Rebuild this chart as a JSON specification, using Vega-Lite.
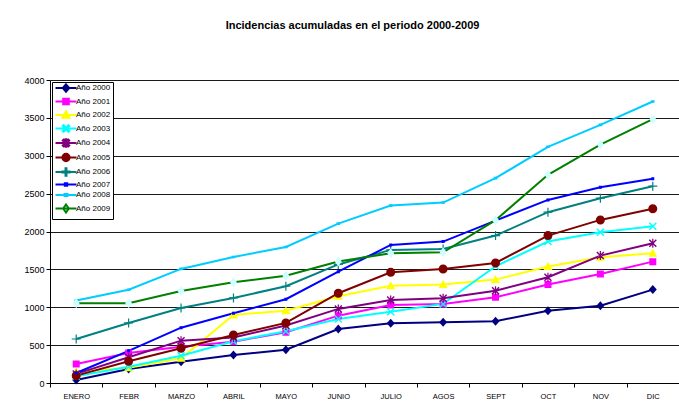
{
  "$schema": "https://vega.github.io/schema/vega-lite/v6.json",
  "width": 629,
  "height": 303,
  "autosize": {"type": "none"},
  "padding": {"left": 50, "top": 80, "right": 0, "bottom": 33},
  "background": "white",
  "config": {"view": {"stroke": null}, "font": "Liberation Sans"},
  "title": {"text": "Incidencias acumuladas en el periodo 2000-2009", "font": "Liberation Sans", "fontSize": 11, "fontWeight": "bold", "color": "black", "anchor": "middle", "dx": -12, "offset": 45},
  "datasets": {
    "d": [
      {"serie": "Año 2000", "mes": "ENERO", "valor": 40}, {"serie": "Año 2000", "mes": "FEBR", "valor": 185}, {"serie": "Año 2000", "mes": "MARZO", "valor": 281}, {"serie": "Año 2000", "mes": "ABRIL", "valor": 370}, {"serie": "Año 2000", "mes": "MAYO", "valor": 440}, {"serie": "Año 2000", "mes": "JUNIO", "valor": 713}, {"serie": "Año 2000", "mes": "JULIO", "valor": 789}, {"serie": "Año 2000", "mes": "AGOS", "valor": 802}, {"serie": "Año 2000", "mes": "SEPT", "valor": 815}, {"serie": "Año 2000", "mes": "OCT", "valor": 955}, {"serie": "Año 2000", "mes": "NOV", "valor": 1021}, {"serie": "Año 2000", "mes": "DIC", "valor": 1233},
      {"serie": "Año 2001", "mes": "ENERO", "valor": 250}, {"serie": "Año 2001", "mes": "FEBR", "valor": 396}, {"serie": "Año 2001", "mes": "MARZO", "valor": 480}, {"serie": "Año 2001", "mes": "ABRIL", "valor": 546}, {"serie": "Año 2001", "mes": "MAYO", "valor": 670}, {"serie": "Año 2001", "mes": "JUNIO", "valor": 889}, {"serie": "Año 2001", "mes": "JULIO", "valor": 1030}, {"serie": "Año 2001", "mes": "AGOS", "valor": 1044}, {"serie": "Año 2001", "mes": "SEPT", "valor": 1132}, {"serie": "Año 2001", "mes": "OCT", "valor": 1299}, {"serie": "Año 2001", "mes": "NOV", "valor": 1440}, {"serie": "Año 2001", "mes": "DIC", "valor": 1602},
      {"serie": "Año 2002", "mes": "ENERO", "valor": 150}, {"serie": "Año 2002", "mes": "FEBR", "valor": 200}, {"serie": "Año 2002", "mes": "MARZO", "valor": 326}, {"serie": "Año 2002", "mes": "ABRIL", "valor": 898}, {"serie": "Año 2002", "mes": "MAYO", "valor": 955}, {"serie": "Año 2002", "mes": "JUNIO", "valor": 1145}, {"serie": "Año 2002", "mes": "JULIO", "valor": 1285}, {"serie": "Año 2002", "mes": "AGOS", "valor": 1299}, {"serie": "Año 2002", "mes": "SEPT", "valor": 1365}, {"serie": "Año 2002", "mes": "OCT", "valor": 1537}, {"serie": "Año 2002", "mes": "NOV", "valor": 1660}, {"serie": "Año 2002", "mes": "DIC", "valor": 1713},
      {"serie": "Año 2003", "mes": "ENERO", "valor": 90}, {"serie": "Año 2003", "mes": "FEBR", "valor": 215}, {"serie": "Año 2003", "mes": "MARZO", "valor": 361}, {"serie": "Año 2003", "mes": "ABRIL", "valor": 550}, {"serie": "Año 2003", "mes": "MAYO", "valor": 683}, {"serie": "Año 2003", "mes": "JUNIO", "valor": 845}, {"serie": "Año 2003", "mes": "JULIO", "valor": 942}, {"serie": "Año 2003", "mes": "AGOS", "valor": 1044}, {"serie": "Año 2003", "mes": "SEPT", "valor": 1541}, {"serie": "Año 2003", "mes": "OCT", "valor": 1867}, {"serie": "Año 2003", "mes": "NOV", "valor": 1990}, {"serie": "Año 2003", "mes": "DIC", "valor": 2070},
      {"serie": "Año 2004", "mes": "ENERO", "valor": 120}, {"serie": "Año 2004", "mes": "FEBR", "valor": 339}, {"serie": "Año 2004", "mes": "MARZO", "valor": 559}, {"serie": "Año 2004", "mes": "ABRIL", "valor": 600}, {"serie": "Año 2004", "mes": "MAYO", "valor": 760}, {"serie": "Año 2004", "mes": "JUNIO", "valor": 978}, {"serie": "Año 2004", "mes": "JULIO", "valor": 1096}, {"serie": "Año 2004", "mes": "AGOS", "valor": 1119}, {"serie": "Año 2004", "mes": "SEPT", "valor": 1219}, {"serie": "Año 2004", "mes": "OCT", "valor": 1396}, {"serie": "Año 2004", "mes": "NOV", "valor": 1682}, {"serie": "Año 2004", "mes": "DIC", "valor": 1845},
      {"serie": "Año 2005", "mes": "ENERO", "valor": 97}, {"serie": "Año 2005", "mes": "FEBR", "valor": 287}, {"serie": "Año 2005", "mes": "MARZO", "valor": 458}, {"serie": "Año 2005", "mes": "ABRIL", "valor": 634}, {"serie": "Año 2005", "mes": "MAYO", "valor": 793}, {"serie": "Año 2005", "mes": "JUNIO", "valor": 1185}, {"serie": "Año 2005", "mes": "JULIO", "valor": 1462}, {"serie": "Año 2005", "mes": "AGOS", "valor": 1506}, {"serie": "Año 2005", "mes": "SEPT", "valor": 1585}, {"serie": "Año 2005", "mes": "OCT", "valor": 1946}, {"serie": "Año 2005", "mes": "NOV", "valor": 2153}, {"serie": "Año 2005", "mes": "DIC", "valor": 2299},
      {"serie": "Año 2006", "mes": "ENERO", "valor": 581}, {"serie": "Año 2006", "mes": "FEBR", "valor": 793}, {"serie": "Año 2006", "mes": "MARZO", "valor": 991}, {"serie": "Año 2006", "mes": "ABRIL", "valor": 1123}, {"serie": "Año 2006", "mes": "MAYO", "valor": 1277}, {"serie": "Año 2006", "mes": "JUNIO", "valor": 1565}, {"serie": "Año 2006", "mes": "JULIO", "valor": 1757}, {"serie": "Año 2006", "mes": "AGOS", "valor": 1770}, {"serie": "Año 2006", "mes": "SEPT", "valor": 1946}, {"serie": "Año 2006", "mes": "OCT", "valor": 2255}, {"serie": "Año 2006", "mes": "NOV", "valor": 2440}, {"serie": "Año 2006", "mes": "DIC", "valor": 2598},
      {"serie": "Año 2007", "mes": "ENERO", "valor": 132}, {"serie": "Año 2007", "mes": "FEBR", "valor": 425}, {"serie": "Año 2007", "mes": "MARZO", "valor": 730}, {"serie": "Año 2007", "mes": "ABRIL", "valor": 921}, {"serie": "Año 2007", "mes": "MAYO", "valor": 1106}, {"serie": "Año 2007", "mes": "JUNIO", "valor": 1470}, {"serie": "Año 2007", "mes": "JULIO", "valor": 1823}, {"serie": "Año 2007", "mes": "AGOS", "valor": 1867}, {"serie": "Año 2007", "mes": "SEPT", "valor": 2144}, {"serie": "Año 2007", "mes": "OCT", "valor": 2417}, {"serie": "Año 2007", "mes": "NOV", "valor": 2585}, {"serie": "Año 2007", "mes": "DIC", "valor": 2695},
      {"serie": "Año 2008", "mes": "ENERO", "valor": 1090}, {"serie": "Año 2008", "mes": "FEBR", "valor": 1232}, {"serie": "Año 2008", "mes": "MARZO", "valor": 1506}, {"serie": "Año 2008", "mes": "ABRIL", "valor": 1664}, {"serie": "Año 2008", "mes": "MAYO", "valor": 1796}, {"serie": "Año 2008", "mes": "JUNIO", "valor": 2104}, {"serie": "Año 2008", "mes": "JULIO", "valor": 2342}, {"serie": "Año 2008", "mes": "AGOS", "valor": 2382}, {"serie": "Año 2008", "mes": "SEPT", "valor": 2704}, {"serie": "Año 2008", "mes": "OCT", "valor": 3118}, {"serie": "Año 2008", "mes": "NOV", "valor": 3408}, {"serie": "Año 2008", "mes": "DIC", "valor": 3716},
      {"serie": "Año 2009", "mes": "ENERO", "valor": 1053}, {"serie": "Año 2009", "mes": "FEBR", "valor": 1053}, {"serie": "Año 2009", "mes": "MARZO", "valor": 1215}, {"serie": "Año 2009", "mes": "ABRIL", "valor": 1330}, {"serie": "Año 2009", "mes": "MAYO", "valor": 1417}, {"serie": "Año 2009", "mes": "JUNIO", "valor": 1605}, {"serie": "Año 2009", "mes": "JULIO", "valor": 1713}, {"serie": "Año 2009", "mes": "AGOS", "valor": 1726}, {"serie": "Año 2009", "mes": "SEPT", "valor": 2149}, {"serie": "Año 2009", "mes": "OCT", "valor": 2748}, {"serie": "Año 2009", "mes": "NOV", "valor": 3148}, {"serie": "Año 2009", "mes": "DIC", "valor": 3483}
    ]
  },
  "data": {"name": "d"},
  "encoding": {
    "x": {
      "field": "mes", "type": "ordinal",
      "sort": ["ENERO", "FEBR", "MARZO", "ABRIL", "MAYO", "JUNIO", "JULIO", "AGOS", "SEPT", "OCT", "NOV", "DIC"],
      "scale": {"type": "band", "paddingInner": 0, "paddingOuter": 0},
      "bandPosition": 0.5,
      "axis": {"title": null, "labelAngle": 0, "tickBand": "extent", "tickSize": 4, "tickColor": "#000", "domainColor": "#000", "labelColor": "#000", "labelFont": "Liberation Sans", "labelFontSize": 7.5, "labelPadding": 5, "grid": false}
    },
    "y": {
      "field": "valor", "type": "quantitative",
      "scale": {"domain": [0, 4000], "nice": false},
      "axis": {"title": null, "format": "d", "values": [0, 500, 1000, 1500, 2000, 2500, 3000, 3500, 4000], "grid": true, "gridColor": "#1a1a1a", "gridWidth": 1, "tickSize": 4, "tickColor": "#000", "domainColor": "#000", "labelColor": "#000", "labelFont": "Liberation Sans", "labelFontSize": 9, "labelPadding": 2}
    }
  },
  "layer": [
    {
      "mark": {"type": "line"},
      "encoding": {
        "stroke": {
          "field": "serie", "type": "nominal",
          "scale": {"domain": ["Año 2000", "Año 2001", "Año 2002", "Año 2003", "Año 2004", "Año 2005", "Año 2006", "Año 2007", "Año 2008", "Año 2009"], "range": ["#000080", "#FF00FF", "#FFFF00", "#00FFFF", "#800080", "#800000", "#008080", "#0000FF", "#00CCFF", "#008000"]},
          "legend": {
            "title": null, "orient": "none", "legendX": 2, "legendY": 2, "padding": 2,
            "fillColor": "white", "strokeColor": "black", "cornerRadius": 0,
            "symbolSize": 2.6, "symbolStrokeWidth": 1.6, "symbolOffset": 8, "labelOffset": 6, "rowPadding": -1.5,
            "labelFont": "Liberation Sans", "labelFontSize": 8, "labelColor": "#000"
          }
        },
        "strokeWidth": {
          "field": "serie", "type": "nominal",
          "scale": {"domain": ["Año 2000", "Año 2001", "Año 2002", "Año 2003", "Año 2004", "Año 2005", "Año 2006", "Año 2007", "Año 2008", "Año 2009"], "range": [2, 2, 2, 2, 2, 2, 2, 1, 1, 1.8]},
          "legend": null
        }
      }
    },
    {
      "mark": {"type": "point", "filled": true, "size": 4, "opacity": 1, "strokeWidth": 0},
      "encoding": {
        "shape": {
          "field": "serie", "type": "nominal",
          "scale": {"domain": ["Año 2000", "Año 2001", "Año 2002", "Año 2003", "Año 2004", "Año 2005", "Año 2006", "Año 2007", "Año 2008", "Año 2009"], "range": [
            "M-13,0H13M0,-4.5L4,0L0,4.5L-4,0Z",
            "M-13,0H13M-3.5,-3.5H3.5V3.5H-3.5Z",
            "M-13,0H13M0,-4.5L4.5,3.5H-4.5Z",
            "M-13,0H13M-4,-3L-3,-4L0,-1L3,-4L4,-3L1,0L4,3L3,4L0,1L-3,4L-4,3L-1,0Z",
            "M-13,0H13M-4,-3L-3,-4L0,-1L3,-4L4,-3L1,0L4,3L3,4L0,1L-3,4L-4,3L-1,0ZM-0.6,-4.5H0.6V4.5H-0.6Z",
            "M-13,0H13M-4.5,0A4.5,4.5,0,1,1,4.5,0A4.5,4.5,0,1,1,-4.5,0Z",
            "M-13,0H13M-0.6,-4.5H0.6V-0.6H4.5V0.6H0.6V4.5H-0.6V0.6H-4.5V-0.6H-0.6Z",
            "M-13,0H13M-1.5,-1.5H1.5V1.5H-1.5Z",
            "M-13,0H13M-1.8,-1.3H1.8V1.3H-1.8Z",
            "M-13,0H13M0,-5L3.5,0L0,5L-3.5,0Z"
          ]},
          "legend": null
        },
        "fill": {
          "field": "serie", "type": "nominal",
          "scale": {"domain": ["Año 2000", "Año 2001", "Año 2002", "Año 2003", "Año 2004", "Año 2005", "Año 2006", "Año 2007", "Año 2008", "Año 2009"], "range": ["#000080", "#FF00FF", "#FFFF00", "#00FFFF", "#800080", "#800000", "#008080", "#0000FF", "#00CCFF", "#CCFFFF"]},
          "legend": null
        }
      }
    }
  ]
}
